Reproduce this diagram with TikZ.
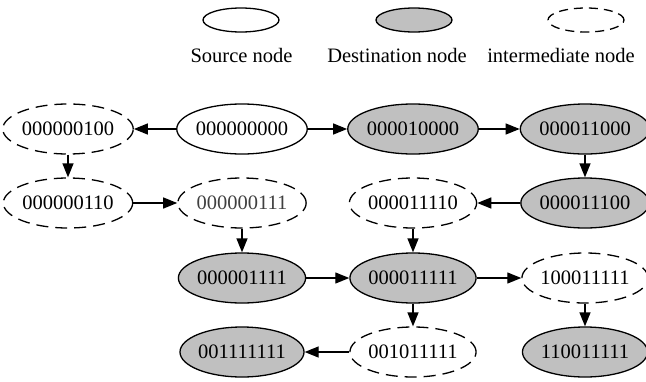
\documentclass[tikz,border=0pt]{standalone}
\usepackage{fontspec}
\setmainfont{Liberation Serif}
\usetikzlibrary{shapes.geometric,arrows.meta}
\definecolor{destgray}{RGB}{192,192,192}
\tikzset{
  nd/.style={ellipse, draw, line width=1.3pt, minimum width=122pt, minimum height=50pt, inner sep=0pt, font=\fontsize{20.5}{22}\selectfont},
  src/.style={nd, fill=white},
  dst/.style={nd, fill=destgray},
  mid/.style={nd, dash pattern=on 12pt off 7pt},
  leg/.style={ellipse, draw, line width=1.3pt, minimum width=76pt, minimum height=24pt, inner sep=0pt},
  lab/.style={font=\fontsize{20.5}{22}\selectfont, inner sep=0pt, anchor=base},
  arr/.style={line width=1.3pt, -{Triangle[length=14pt,width=11pt]}},
}
\begin{document}
\begin{tikzpicture}[x=1pt,y=-1pt]
\useasboundingbox (0,0) rectangle (646,381);
% legend
\node[leg] (ls) at (241,20) {};
\node[leg, fill=destgray] (ld) at (414,20) {};
\node[leg, dash pattern=on 9pt off 6pt] (li) at (586,20) {};
\node[lab] (lst) at (241.5,62) {Source node};
\node[lab] (ldt) at (397,62) {Destination node};
\node[lab] (lit) at (561,62) {intermediate node};
% row 1
\node[mid] (A) at (68,129) {000000100};
\node[src] (B) at (242,129) {000000000};
\node[dst] (C) at (413,129) {000010000};
\node[dst] (D) at (585,129) {000011000};
% row 2
\node[mid] (E) at (68,203) {000000110};
\node[mid, text=black!75] (F) at (242,203) {000000111};
\node[mid] (G) at (413,203) {000011110};
\node[dst] (H) at (585,203) {000011100};
% row 3
\node[dst] (I) at (242,278) {000001111};
\node[dst] (J) at (413,278) {000011111};
\node[mid] (K) at (585,278) {100011111};
% row 4
\node[dst] (L) at (242,352) {001111111};
\node[mid] (M) at (413,352) {001011111};
\node[dst] (N) at (585,352) {110011111};
% edges
\draw[arr] (B) -- (A);
\draw[arr] (B) -- (C);
\draw[arr] (C) -- (D);
\draw[arr] (D) -- (H);
\draw[arr] (H) -- (G);
\draw[arr] (A) -- (E);
\draw[arr] (E) -- (F);
\draw[arr] (F) -- (I);
\draw[arr] (G) -- (J);
\draw[arr] (I) -- (J);
\draw[arr] (J) -- (K);
\draw[arr] (J) -- (M);
\draw[arr] (M) -- (L);
\draw[arr] (K) -- (N);
\end{tikzpicture}
\end{document}
